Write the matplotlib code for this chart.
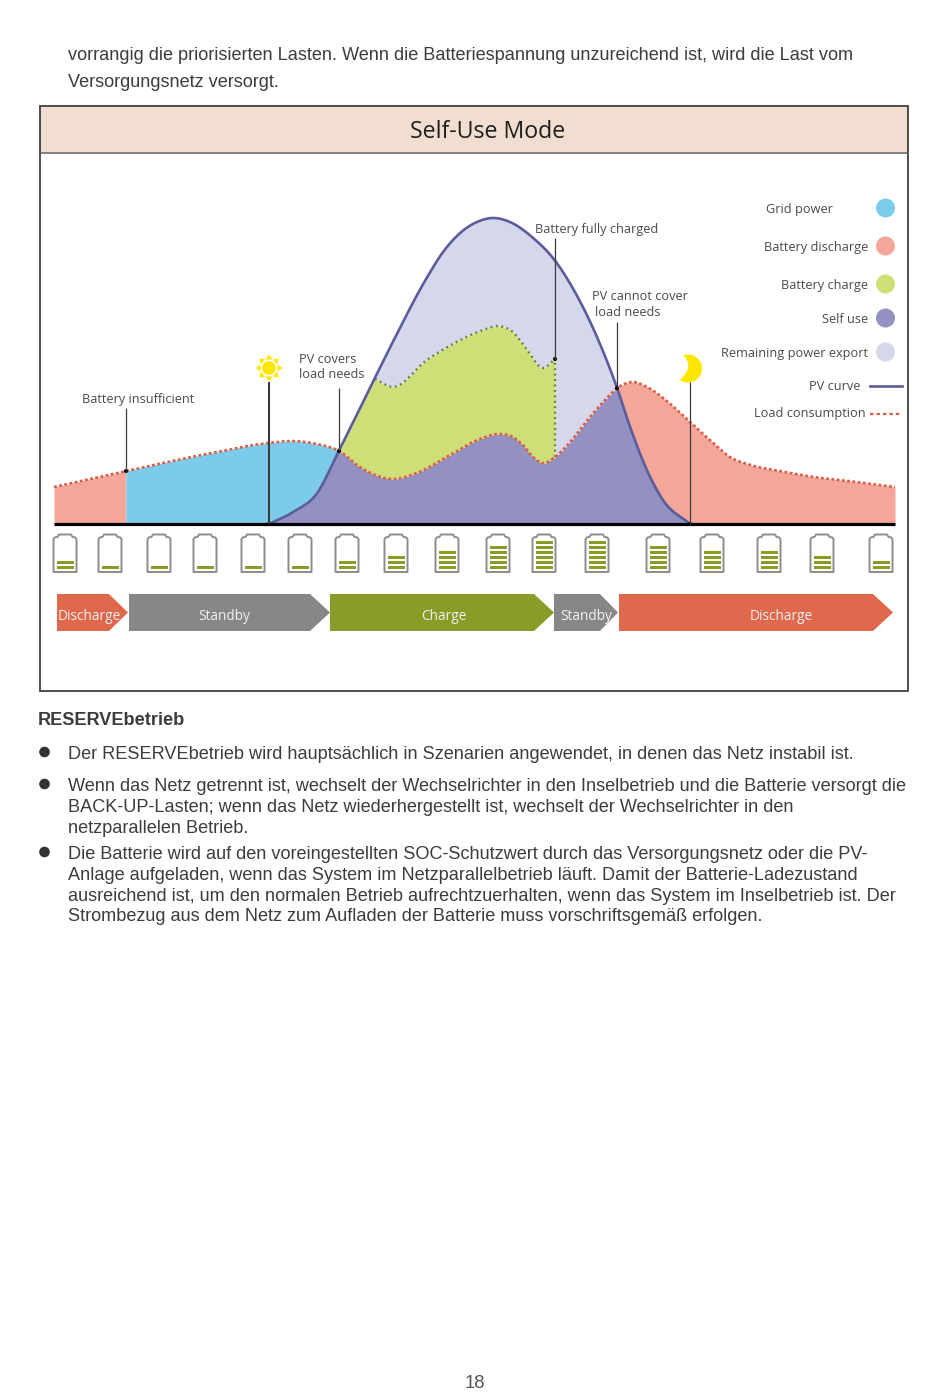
import numpy as np
import matplotlib
matplotlib.use("Agg")
import matplotlib.pyplot as plt
from matplotlib.patches import Circle, Polygon, Rectangle

W, H = 950, 1397
SANS = "Open Sans"
PAGE = "Liberation Sans"
PAGE_COLOR = "#3c3c3c"
LABEL_COLOR = "#4a4a4a"

# curves: hour of day, power as % of the PV peak
load_t = [0, 1.03, 2.05, 4.37, 6.14, 6.82, 7.51, 8.13, 8.73, 9.67, 10.36, 11.30, 12.16, 12.73, 13.10, 13.38, 13.67,
          13.95, 14.30, 14.73, 15.30, 15.78, 16.07, 16.50, 16.92, 17.38, 18.15, 18.81, 19.29, 19.78, 20.72, 21.66, 22.63, 24.0]
load_p = [12.1, 14.7, 17.3, 22.9, 26.5, 27.1, 26.1, 23.9, 18.6, 14.7, 16.7, 22.5, 27.8, 29.4, 28.4, 25.8, 21.9,
          19.9, 21.9, 26.8, 35.0, 41.2, 44.4, 46.4, 44.8, 41.2, 33.3, 26.5, 21.9, 19.6, 17.3, 15.4, 14.1, 12.1]
pv_t = [6.14, 6.82, 7.51, 8.13, 9.13, 9.67, 10.64, 11.11, 11.59, 12.07, 12.53, 13.01, 13.67, 14.24, 14.93, 15.50, 16.07,
        16.44, 16.92, 17.38, 18.15]
pv_p = [0, 3.9, 10.1, 23.9, 47.1, 59.5, 80.5, 89.0, 95.1, 98.7, 100, 98.7, 93.5, 86.9, 74.5, 61.0, 44.4,
        31.7, 17.6, 7.8, 0]
charge_t = [9.16, 9.67, 10.64, 11.59, 12.24, 12.67, 13.10, 13.50, 13.93, 14.30]
charge_p = [47.4, 44.8, 53.6, 60.1, 63.4, 64.7, 62.7, 56.9, 51.0, 53.9]

T_GRID_START = 2.05
T_PV_COVERS = 8.13
T_FULL = 14.30
T_PV_SHORT = 16.07

legend_circles = ["Grid power", "Battery discharge", "Battery charge", "Self use", "Remaining power export"]
legend_colors = ["#7DCBEA", "#F4A799", "#CFDF78", "#9390C2", "#D5D7EB"]
legend_y = [208, 246, 284, 318, 352]
legend_right = [833, 868, 868, 868, 868]

battery_levels = [2, 1, 1, 1, 1, 1, 2, 3, 4, 5, 6, 6, 5, 4, 4, 3, 2]
battery_x = [65, 110, 159, 205, 253, 300, 347, 396, 447, 498, 544, 597, 658, 712, 769, 822, 881]

phase_names = ["Discharge", "Standby", "Charge", "Standby", "Discharge"]
phase_colors = ["#E0684C", "#878787", "#889C27", "#878787", "#E0684C"]
phase_x = [(57, 109, 128), (129, 310, 330), (330, 534, 554), (554, 600, 618), (619, 873, 893)]
phase_label_x = [89, 224.5, 443.5, 586, 781]

top_lines = [(68, 60, "vorrangig die priorisierten Lasten. Wenn die Batteriespannung unzureichend ist, wird die Last vom"),
             (68, 87, "Versorgungsnetz versorgt.")]
body_lines = [(68, 759, "Der RESERVEbetrieb wird hauptsächlich in Szenarien angewendet, in denen das Netz instabil ist."),
              (68, 791, "Wenn das Netz getrennt ist, wechselt der Wechselrichter in den Inselbetrieb und die Batterie versorgt die"),
              (68, 812, "BACK-UP-Lasten; wenn das Netz wiederhergestellt ist, wechselt der Wechselrichter in den"),
              (68, 833, "netzparallelen Betrieb."),
              (68, 859, "Die Batterie wird auf den voreingestellten SOC-Schutzwert durch das Versorgungsnetz oder die PV-"),
              (68, 880, "Anlage aufgeladen, wenn das System im Netzparallelbetrieb läuft. Damit der Batterie-Ladezustand"),
              (68, 901, "ausreichend ist, um den normalen Betrieb aufrechtzuerhalten, wenn das System im Inselbetrieb ist. Der"),
              (68, 921, "Strombezug aus dem Netz zum Aufladen der Batterie muss vorschriftsgemäß erfolgen.")]
bullet_y = [752, 784, 852]


def smooth(x, y, n=14):
    # cubic hermite through the read points, only to round the drawn line
    x = np.asarray(x, float)
    y = np.asarray(y, float)
    h = np.diff(x)
    s = np.diff(y) / h
    d = np.empty_like(x)
    d[1:-1] = (h[:-1] * s[1:] + h[1:] * s[:-1]) / (h[:-1] + h[1:])
    d[0], d[-1] = s[0], s[-1]
    xs, ys = [], []
    for i in range(len(h)):
        u = np.linspace(0, 1, n, endpoint=False)
        xs.append(x[i] + u * h[i])
        ys.append((2 * u ** 3 - 3 * u ** 2 + 1) * y[i] + (u ** 3 - 2 * u ** 2 + u) * h[i] * d[i]
                  + (-2 * u ** 3 + 3 * u ** 2) * y[i + 1] + (u ** 3 - u ** 2) * h[i] * d[i + 1])
    xs.append(x[-1:])
    ys.append(y[-1:])
    return np.concatenate(xs), np.concatenate(ys)


fig = plt.figure(figsize=(W / 100, H / 100), dpi=100, facecolor="white")

# chart axes sits exactly on the plot region of the page
chart = fig.add_axes([54 / W, (H - 524) / H, 841 / W, 306 / H], zorder=1)
chart.set_xlim(0, 24)
chart.set_ylim(0, 100)
chart.axis("off")

t = np.linspace(0, 24, 4801)
lx, ly = smooth(load_t, load_p)
px, py = smooth(pv_t, pv_p)
cx, cy = smooth(charge_t, charge_p)
load = np.interp(t, lx, ly)
pv = np.interp(t, px, py, left=0, right=0)
charge_top = np.where(t < charge_t[0], pv, np.where(t > T_FULL, load, np.interp(t, cx, cy)))

chart.fill_between(t, 0, load, where=(t <= T_GRID_START), color="#F4A799", lw=0)
chart.fill_between(t, pv, load, where=(t >= T_GRID_START) & (t <= T_PV_COVERS), color="#7DCBEA", lw=0)
chart.fill_between(t, pv, load, where=(t >= T_PV_SHORT), color="#F4A799", lw=0)
chart.fill_between(t, 0, np.minimum(pv, load), color="#9390C2", lw=0)
chart.fill_between(t, load, charge_top, where=(t >= T_PV_COVERS) & (t <= T_FULL), color="#CFDF78", lw=0)
chart.fill_between(t, charge_top, pv, where=(t >= T_PV_COVERS) & (t <= T_PV_SHORT), color="#D5D7EB", lw=0)

mask = (t >= charge_t[0]) & (t <= T_FULL)
chart.plot(t[mask], charge_top[mask], color="#66852F", lw=1.7, ls=(0, (0.8, 1.5)), clip_on=False)
chart.plot([T_FULL, T_FULL], [np.interp(T_FULL, t, load), np.interp(T_FULL, t, charge_top)], color="#66852F", lw=1.7,
           ls=(0, (0.8, 1.5)))
chart.plot(px, py, color="#5B5C9B", lw=1.9, clip_on=False)
chart.plot(lx, ly, color="#D9604A", lw=1.9, ls=(0, (1.1, 0.9)), clip_on=False)

# page layer, one unit is one pixel
ax = fig.add_axes([0, 0, 1, 1], zorder=2)
ax.set_xlim(0, W)
ax.set_ylim(H, 0)
ax.axis("off")
ax.patch.set_alpha(0)

ax.add_patch(Rectangle((40, 106), 868, 46, fc="#F2DED1", ec="none", zorder=0))
ax.plot([40, 908], [152.5, 152.5], color="#5c5c5c", lw=1.1)
ax.add_patch(Rectangle((40, 106), 868, 585, fc="none", ec="#3f3f3f", lw=1.3))
ax.text(488, 132, "Self-Use Mode", ha="center", va="center", family=SANS, fontsize=16.7, color="#1e1e1e")

ax.plot([54, 895], [524, 524], color="black", lw=2.3, solid_capstyle="butt")

# callouts: x, top, bottom, width
for x, top, bottom, w in [(126, 408, 471, 0.9), (269, 382, 524, 1.5), (339, 388, 451, 0.9), (555, 238, 359, 0.9),
                          (617, 322, 388, 0.9), (690, 382, 524, 0.9)]:
    ax.plot([x, x], [top, bottom], color="#3a3a3a", lw=w, solid_capstyle="butt")
    ax.add_patch(Circle((x, bottom), 2, fc="black", ec="none"))

callouts = [(82, 399.5, "Battery insufficient"), (299, 359.5, "PV covers"), (299, 375, "load needs"),
            (535, 229.5, "Battery fully charged"), (592, 297, "PV cannot cover"), (595, 312.5, "load needs")]
for x, y, s in callouts:
    ax.text(x, y, s, ha="left", va="center", family=SANS, fontsize=9.15, color=LABEL_COLOR)

# sun
sun = np.array([269, 368])
ax.add_patch(Circle(sun, 6.9, fc="#FFE600", ec="none"))
for a in np.deg2rad(np.arange(0, 360, 45)):
    d = np.array([np.cos(a), np.sin(a)])
    n = np.array([-d[1], d[0]])
    ax.add_patch(Polygon([sun + 13.5 * d, sun + 8.5 * d + 3.5 * n, sun + 8.5 * d - 3.5 * n], fc="#FFE600", ec="none"))

# moon: outer arc, then a quadratic back along the inner edge
a1 = np.deg2rad(np.linspace(-110, 129, 60))
u = np.linspace(0, 1, 30)[:, None]
p0, p1, p2 = np.array([677.0, 382.0]), np.array([696.0, 367.5]), np.array([683.0, 355.0])
inner = (1 - u) ** 2 * p0 + 2 * u * (1 - u) * p1 + u ** 2 * p2
moon = np.vstack([np.column_stack([688 + 14 * np.cos(a1), 368.5 + 14 * np.sin(a1)]), inner])
ax.add_patch(Polygon(moon, fc="#FFE600", ec="none"))

# legend
for name, col, y, right in zip(legend_circles, legend_colors, legend_y, legend_right):
    ax.text(right, y + 1.5, name, ha="right", va="center", family=SANS, fontsize=9.2, color=LABEL_COLOR)
    ax.add_patch(Circle((885.5, y), 9.5, fc=col, ec="none"))
ax.text(860, 386, "PV curve", ha="right", va="center", family=SANS, fontsize=9.2, color=LABEL_COLOR)
ax.plot([870, 902], [386, 386], color="#5B5C9B", lw=1.9)
ax.text(866, 414, "Load consumption", ha="right", va="center", family=SANS, fontsize=9.2, color=LABEL_COLOR)
ax.plot([870, 902], [414, 414], color="#D9604A", lw=1.6, ls=(0, (1.6, 1.3)))

# batteries
for x, level in zip(battery_x, battery_levels):
    outline = [(x - 11.5, 572), (x - 11.5, 539), (x - 10, 537.3), (x - 7.5, 537), (x - 6, 534.5), (x + 6, 534.5),
               (x + 7.5, 537), (x + 10, 537.3), (x + 11.5, 539), (x + 11.5, 572)]
    ax.add_patch(Polygon(outline, closed=True, fc="white", ec="#8c8c8c", lw=1.4, joinstyle="round"))
    for i in range(level):
        ax.add_patch(Rectangle((x - 8.5, 565.5 - 5 * i), 17, 3, fc="#889C27", ec="none"))

# phase arrows
for name, col, (x0, x1, x2), lx_ in zip(phase_names, phase_colors, phase_x, phase_label_x):
    ax.add_patch(Polygon([(x0, 594), (x1, 594), (x2, 612.5), (x1, 631), (x0, 631)], fc=col, ec="none"))
    ax.text(lx_, 616.5, name, ha="center", va="center", family=SANS, fontsize=9.8, color="#f2f2f2")

# page text
for x, y, s in top_lines + body_lines:
    ax.text(x, y, s, ha="left", va="baseline", family=PAGE, fontsize=13.1, color=PAGE_COLOR)
ax.text(38, 725, "RESERVEbetrieb", ha="left", va="baseline", family=PAGE, fontsize=13.1, weight="bold", color=PAGE_COLOR)
for y in bullet_y:
    ax.add_patch(Circle((44.5, y), 5.3, fc="#333333", ec="none"))
ax.text(475, 1388, "18", ha="center", va="baseline", family=PAGE, fontsize=13.4, color="#555555")

fig.savefig("out.png", dpi=100)
